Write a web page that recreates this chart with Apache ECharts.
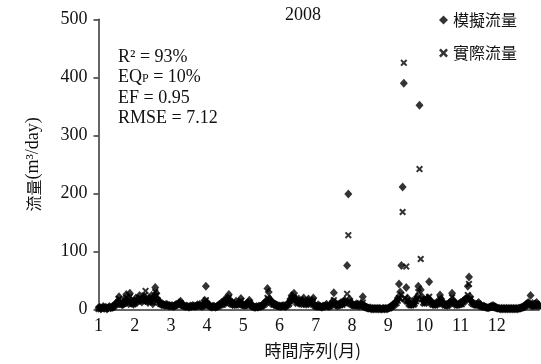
<!DOCTYPE html>
<html>
<head>
<meta charset="utf-8">
<script src="https://cdn.jsdelivr.net/npm/echarts@6/dist/echarts.min.js"></script>
<style>
  html, body { margin: 0; padding: 0; background: #fff; }
  #chart { width: 541px; height: 364px; }
</style>
</head>
<body>
<div id="chart"></div>
<script>
// daily values, 2008 (index 0 = Jan 1)
const simulated = [
  2, 4, 1, 3, 5, 2, 4, 1, 3, 5,
  3, 4, 5, 7, 9, 11, 14, 22, 12, 9,
  8, 12, 18, 26, 15, 10, 28, 16, 11, 9,
  14, 20, 12, 18, 24, 16, 13, 20, 22, 15,
  17, 12, 20, 15, 24, 10, 22, 38, 28, 18,
  14, 12, 9, 10, 8, 7, 9, 8, 6, 7,
  6, 7, 5, 6, 8, 9, 10, 12, 14, 9,
  7, 6, 5, 6, 5, 4, 6, 5, 7, 6,
  5, 6, 8, 7, 9, 6, 5, 8, 16, 40,
  12, 8, 6, 5, 4, 6, 5, 4, 5, 6,
  8, 10, 12, 9, 14, 18, 12, 20, 26, 16,
  12, 9, 10, 8, 14, 10, 9, 12, 19, 10,
  8, 7, 9, 8, 12, 16, 10, 6, 5, 4,
  4, 5, 4, 6, 5, 6, 8, 10, 12, 15,
  36, 30, 18, 14, 12, 9, 10, 8, 7, 6,
  6, 5, 6, 7, 6, 5, 8, 10, 12, 18,
  24, 22, 28, 20, 15, 12, 18, 14, 10, 16,
  20, 12, 9, 15, 18, 13, 10, 16, 20, 8,
  6, 5, 8, 6, 5, 4, 6, 5, 7, 9,
  6, 5, 8, 10, 14, 29, 12, 9, 6, 8,
  10, 12, 9, 14, 16, 12, 76, 199, 18, 12,
  9, 8, 7, 8, 10, 9, 6, 8, 10, 22,
  7, 5, 4, 3, 2, 3, 1, 2, 1, 2,
  1, 2, 1, 2, 1, 1, 2, 1, 2, 1,
  2, 3, 5, 6, 8, 10, 12, 14, 20, 44,
  30, 76, 211, 390, 15, 38, 20, 12, 10, 8,
  14, 10, 12, 18, 22, 40, 352, 34, 22, 16,
  12, 14, 18, 20, 48, 16, 12, 9, 10, 8,
  12, 10, 14, 25, 18, 12, 10, 8, 9, 7,
  10, 12, 14, 28, 16, 12, 10, 8, 9, 10,
  12, 10, 14, 16, 18, 20, 40, 56, 22, 14,
  12, 10, 9, 8, 10, 12, 8, 6, 5, 6,
  5, 4, 3, 3, 4, 5, 6, 7, 5, 4,
  3, 2, 2, 1, 2, 1, 2, 1, 2, 1,
  2, 1, 2, 1, 2, 1, 2, 1, 2, 2,
  3, 4, 5, 6, 8, 10, 12, 10, 24, 8,
  6, 8, 10, 12, 8, 6
];
const observed = [
  1, 3, 2, 4, 2, 3, 1, 4, 2, 3,
  2, 3, 4, 6, 8, 9, 12, 18, 10, 8,
  9, 10, 15, 20, 14, 11, 22, 14, 10, 9,
  12, 16, 14, 15, 20, 18, 14, 18, 24, 32,
  16, 14, 18, 13, 20, 12, 18, 30, 24, 16,
  12, 10, 9, 8, 7, 7, 8, 7, 6, 6,
  6, 6, 5, 6, 7, 8, 9, 10, 11, 8,
  6, 6, 5, 5, 5, 4, 5, 5, 6, 5,
  5, 5, 7, 6, 8, 6, 5, 7, 12, 16,
  10, 7, 6, 5, 4, 5, 5, 4, 5, 5,
  7, 9, 10, 8, 12, 14, 10, 16, 20, 14,
  10, 8, 9, 7, 12, 9, 8, 10, 15, 9,
  7, 6, 8, 7, 10, 12, 9, 6, 5, 4,
  4, 4, 4, 5, 5, 5, 7, 8, 10, 12,
  20, 18, 14, 12, 10, 8, 9, 7, 6, 6,
  5, 5, 5, 6, 5, 5, 7, 8, 10, 14,
  18, 17, 20, 16, 12, 10, 14, 12, 9, 12,
  15, 10, 8, 12, 14, 11, 9, 12, 15, 7,
  5, 5, 6, 5, 4, 4, 5, 5, 6, 7,
  5, 5, 6, 8, 10, 16, 10, 8, 6, 7,
  8, 10, 8, 12, 13, 10, 27, 128, 14, 10,
  8, 7, 6, 7, 8, 7, 5, 7, 8, 12,
  5, 4, 3, 2, 2, 1, 2, 1, 2, 1,
  2, 1, 2, 1, 2, 1, 1, 2, 1, 2,
  2, 2, 4, 5, 6, 8, 10, 11, 15, 20,
  18, 25, 168, 425, 20, 74, 16, 10, 8, 7,
  10, 8, 10, 14, 18, 30, 242, 87, 18, 12,
  10, 12, 14, 16, 22, 12, 10, 8, 9, 7,
  10, 9, 12, 18, 14, 10, 9, 7, 8, 6,
  8, 10, 12, 21, 13, 10, 9, 7, 8, 9,
  10, 9, 12, 14, 16, 18, 25, 44, 18, 12,
  10, 9, 8, 7, 9, 10, 7, 5, 5, 5,
  4, 4, 3, 3, 3, 4, 5, 6, 4, 3,
  2, 2, 1, 2, 1, 2, 1, 2, 1, 2,
  1, 2, 1, 2, 1, 2, 1, 2, 1, 2,
  2, 3, 4, 5, 6, 8, 10, 8, 12, 7,
  5, 6, 8, 10, 7, 5
];
const seriesNames = ["模擬流量", "實際流量"];
const statLines = ["R² = 93%", "{a|EQ}{s|P}{a| = 10%}", "EF = 0.95", "RMSE = 7.12"];

const serif = "'Liberation Serif', 'DejaVu Serif', serif";
const cjk = "'Noto Sans CJK TC', 'Noto Sans CJK SC', sans-serif";
const crossPath = "path://M0,2L2,0L5,3L8,0L10,2L7,5L10,8L8,10L5,7L2,10L0,8L3,5Z";
const ink = "#111";

const chart = echarts.init(document.getElementById("chart"), null, { renderer: "canvas" });

chart.setOption({
  animation: false,
  backgroundColor: "#fff",
  grid: { left: 98.5, right: 2, top: 19.3, bottom: 54.5, containLabel: false, outerBoundsMode: "none" },
  legend: {
    orient: "vertical",
    left: 434,
    top: 5,
    itemGap: 13,
    itemWidth: 9,
    itemHeight: 9,
    textStyle: { fontFamily: cjk, fontSize: 16, color: ink, lineHeight: 20 },
    data: seriesNames
  },
  xAxis: {
    type: "value",
    min: 0,
    max: 365,
    interval: 30,
    name: "時間序列(月)",
    nameLocation: "middle",
    nameGap: 33,
    nameTextStyle: { fontFamily: cjk, fontSize: 17, color: ink, padding: [0, 12, 0, 0] },
    axisLine: { show: true, lineStyle: { color: "#333", width: 1.5 } },
    axisTick: { show: false },
    splitLine: { show: false },
    axisLabel: {
      margin: 8,
      fontFamily: serif,
      fontSize: 18,
      color: ink,
      showMaxLabel: false,
      formatter: (v) => (v % 30 === 0 && v < 360 ? String(v / 30 + 1) : "")
    }
  },
  yAxis: {
    type: "value",
    min: 0,
    max: 500,
    interval: 100,
    name: "{c|流量}{l|(m³/day)}",
    nameLocation: "middle",
    nameGap: 56,
    nameTextStyle: {
      rich: {
        c: { fontFamily: cjk, fontSize: 16, color: ink },
        l: { fontFamily: serif, fontSize: 18, color: ink }
      }
    },
    axisLine: { show: true, lineStyle: { color: "#333", width: 1.5 } },
    axisTick: { show: true, length: 5, lineStyle: { color: "#333", width: 1.5 } },
    splitLine: { show: false },
    axisLabel: { margin: 11, fontFamily: serif, fontSize: 18, color: ink }
  },
  graphic: [
    {
      type: "text", x: 303, y: 15,
      style: { text: "2008", align: "center", verticalAlign: "middle", font: "18px " + serif, fill: ink }
    }
  ].concat(statLines.map((t, i) => ({
    type: "text", x: 118, y: 57 + i * 20.5,
    style: {
      text: t,
      verticalAlign: "middle",
      font: "18px " + serif,
      fill: ink,
      rich: {
        a: { font: "18px " + serif, fill: ink },
        s: { font: "12px " + serif, fill: ink, verticalAlign: "bottom", padding: [0, 0, 2, 0] }
      }
    }
  }))),
  series: [
    {
      name: seriesNames[0],
      type: "scatter",
      symbol: "diamond",
      symbolSize: [8, 9],
      itemStyle: { color: "#000" },
      data: simulated.map((v, i) => [i, v])
    },
    {
      name: seriesNames[1],
      type: "scatter",
      symbol: crossPath,
      symbolSize: 7,
      itemStyle: { color: "#000" },
      data: observed.map((v, i) => [i, v])
    }
  ]
});
</script>
</body>
</html>
